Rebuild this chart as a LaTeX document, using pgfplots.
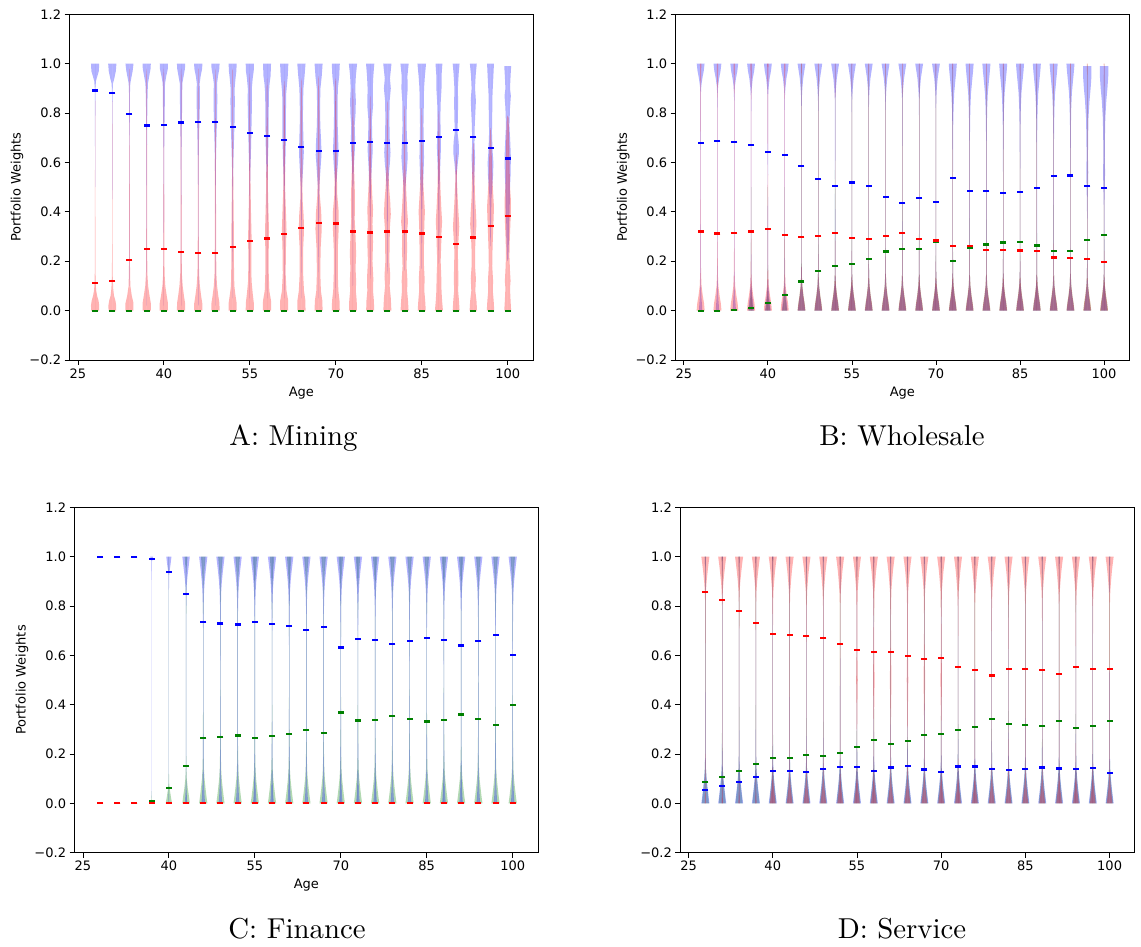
\documentclass[border=0pt]{standalone}
\usepackage{fontspec}
\usepackage{pgfplots}
\pgfplotsset{compat=1.18}
\usepackage{pgfplotstable}
\newfontfamily\dv{DejaVu Sans}
\newfontfamily\capfont{lmroman10-regular.otf}
\definecolor{mblue}{RGB}{0,0,255}
\definecolor{mred}{RGB}{255,0,0}
\definecolor{mgreen}{RGB}{0,128,0}

% one violin = two mirrored halves of a density profile (columns y, w)
\newcommand{\V}[3]{%
  \addplot[draw=none, fill=#2, fill opacity=0.3, forget plot] table[row sep=crcr, x expr={#1+\thisrow{w}}, y=y] {y w\\#3\\};
  \addplot[draw=none, fill=#2, fill opacity=0.3, forget plot] table[row sep=crcr, x expr={#1-\thisrow{w}}, y=y] {y w\\#3\\};
}
\newcommand{\VT}[3]{%
  \addplot[draw=none, fill=#2, fill opacity=0.3, forget plot] table[x expr={#1+\thisrow{w}}, y=y] {#3};
  \addplot[draw=none, fill=#2, fill opacity=0.3, forget plot] table[x expr={#1-\thisrow{w}}, y=y] {#3};
}

% mean portfolio weights by age
\pgfplotstableread{
age blue red green
28 0.891 0.111 0
31 0.881 0.120 0
34 0.796 0.204 0
37 0.750 0.250 0
40 0.753 0.249 0
43 0.762 0.238 0
46 0.765 0.234 0
49 0.765 0.234 0
52 0.743 0.257 0
55 0.719 0.281 0
58 0.708 0.292 0
61 0.691 0.309 0
64 0.664 0.336 0
67 0.645 0.355 0
70 0.647 0.353 0
73 0.680 0.320 0
76 0.684 0.316 0
79 0.680 0.320 0
82 0.680 0.320 0
85 0.686 0.312 0
88 0.703 0.299 0
91 0.731 0.269 0
94 0.704 0.296 0
97 0.658 0.343 0
100 0.616 0.382 0
}\meansA
\pgfplotstableread{
age blue red green
28 0.680 0.320 0.000
31 0.686 0.312 0.000
34 0.684 0.315 0.003
37 0.670 0.320 0.011
40 0.641 0.330 0.030
43 0.630 0.307 0.062
46 0.586 0.297 0.118
49 0.534 0.303 0.162
52 0.505 0.314 0.181
55 0.519 0.293 0.188
58 0.503 0.289 0.208
61 0.459 0.301 0.239
64 0.436 0.314 0.251
67 0.457 0.291 0.251
70 0.439 0.284 0.280
73 0.538 0.262 0.200
76 0.485 0.261 0.253
79 0.485 0.246 0.268
82 0.477 0.246 0.276
85 0.480 0.243 0.277
88 0.495 0.241 0.264
91 0.546 0.215 0.241
94 0.547 0.214 0.241
97 0.505 0.209 0.287
100 0.496 0.197 0.307
}\meansB
\pgfplotstableread{
age blue red green
28 1.000 0 0.000
31 1.000 0 0.000
34 1.000 0 0.000
37 0.992 0 0.008
40 0.939 0 0.061
43 0.847 0 0.153
46 0.736 0 0.264
49 0.729 0 0.269
52 0.725 0 0.275
55 0.736 0 0.264
58 0.728 0 0.272
61 0.720 0 0.280
64 0.702 0 0.298
67 0.716 0 0.286
70 0.632 0 0.368
73 0.666 0 0.336
76 0.663 0 0.337
79 0.647 0 0.354
82 0.659 0 0.341
85 0.670 0 0.332
88 0.662 0 0.338
91 0.640 0 0.360
94 0.659 0 0.341
97 0.682 0 0.318
100 0.602 0 0.399
}\meansC
\pgfplotstableread{
age blue red green
28 0.054 0.858 0.087
31 0.070 0.824 0.106
34 0.087 0.781 0.131
37 0.107 0.732 0.160
40 0.131 0.687 0.183
43 0.130 0.683 0.185
46 0.127 0.677 0.195
49 0.138 0.670 0.192
52 0.148 0.645 0.204
55 0.148 0.622 0.229
58 0.131 0.612 0.257
61 0.145 0.613 0.241
64 0.150 0.598 0.252
67 0.137 0.586 0.277
70 0.127 0.590 0.280
73 0.149 0.552 0.298
76 0.149 0.541 0.310
79 0.140 0.518 0.341
82 0.134 0.543 0.322
85 0.138 0.545 0.317
88 0.145 0.541 0.315
91 0.141 0.524 0.334
94 0.140 0.552 0.307
97 0.144 0.545 0.313
100 0.122 0.545 0.334
}\meansD

% shared density profiles (y, half width)
\pgfplotstableread[row sep=crcr]{y w\\0 0\\0 0.3\\0.02 0.25\\0.05 0.15\\0.1 0.06\\0.2 0.03\\0.5 0.02\\0.8 0.03\\0.88 0.05\\0.91 0.12\\0.94 0.3\\0.97 0.55\\1.0 0.7\\1.0 0\\}\BbA
\pgfplotstableread[row sep=crcr]{y w\\0 0\\0 0.5\\0.03 0.38\\0.06 0.22\\0.1 0.09\\0.15 0.04\\0.25 0.03\\0.5 0.02\\0.8 0.03\\0.87 0.05\\0.9 0.12\\0.94 0.3\\0.97 0.55\\1.0 0.7\\1.0 0\\}\BbB
\pgfplotstableread[row sep=crcr]{y w\\0 0\\0 0.65\\0.03 0.5\\0.06 0.3\\0.1 0.12\\0.15 0.05\\0.25 0.03\\0.5 0.02\\0.8 0.03\\0.86 0.06\\0.9 0.15\\0.94 0.3\\0.97 0.5\\1.0 0.7\\1.0 0\\}\BbC
\pgfplotstableread[row sep=crcr]{y w\\0 0\\0 0.65\\0.03 0.5\\0.06 0.3\\0.1 0.12\\0.15 0.05\\0.25 0.03\\0.5 0.03\\0.65 0.05\\0.75 0.08\\0.82 0.14\\0.88 0.25\\0.93 0.45\\0.97 0.62\\1.0 0.72\\1.0 0\\}\BbD
\pgfplotstableread[row sep=crcr]{y w\\0 0\\0 0.6\\0.03 0.45\\0.06 0.28\\0.1 0.12\\0.15 0.05\\0.3 0.03\\0.42 0.05\\0.5 0.12\\0.56 0.18\\0.62 0.12\\0.7 0.15\\0.78 0.22\\0.85 0.4\\0.9 0.6\\0.95 0.75\\0.99 0.75\\0.99 0\\}\BbE
\pgfplotstableread[row sep=crcr]{y w\\0 0\\0 0.72\\0.03 0.6\\0.06 0.38\\0.1 0.16\\0.15 0.07\\0.3 0.03\\0.6 0.02\\0.85 0.03\\0.92 0.06\\0.97 0.1\\1.0 0.12\\1.0 0\\}\BrA
\pgfplotstableread[row sep=crcr]{y w\\0 0\\0 0.7\\0.03 0.55\\0.06 0.35\\0.1 0.15\\0.15 0.05\\0.3 0.02\\0.6 0.02\\0.85 0.02\\0.95 0.04\\1.0 0.06\\1.0 0\\}\BrB
\pgfplotstableread[row sep=crcr]{y w\\0 0\\0 0.45\\0.03 0.25\\0.06 0.1\\0.1 0.03\\0.3 0.01\\0.5 0\\}\BgA
\pgfplotstableread[row sep=crcr]{y w\\0 0\\0 0.7\\0.03 0.55\\0.06 0.35\\0.1 0.15\\0.15 0.05\\0.3 0.03\\0.6 0.02\\0.9 0.02\\0.98 0.01\\1.0 0\\}\BgB

\pgfplotstableread[row sep=crcr]{y w\\0.02 0\\0.05 0.01\\0.9 0.01\\0.98 0.05\\1.0 0.25\\1.0 0\\}\CbA
\pgfplotstableread[row sep=crcr]{y w\\0 0\\0 0.06\\0.05 0.01\\0.85 0.015\\0.92 0.04\\0.94 0.12\\0.97 0.3\\1.0 0.45\\1.0 0\\}\CbB
\pgfplotstableread[row sep=crcr]{y w\\0 0\\0 0.2\\0.05 0.08\\0.1 0.02\\0.3 0.015\\0.7 0.015\\0.84 0.04\\0.88 0.1\\0.92 0.25\\0.96 0.45\\1.0 0.65\\1.0 0\\}\CbC
\pgfplotstableread[row sep=crcr]{y w\\0 0\\0 0.32\\0.03 0.22\\0.08 0.12\\0.15 0.07\\0.25 0.045\\0.5 0.03\\0.7 0.04\\0.8 0.07\\0.86 0.14\\0.9 0.25\\0.94 0.42\\0.97 0.57\\1.0 0.72\\1.0 0\\}\CbD
\pgfplotstableread[row sep=crcr]{y w\\0 0\\0 0.15\\0.02 0.02\\0.05 0\\}\CgA
\pgfplotstableread[row sep=crcr]{y w\\0 0\\0 0.55\\0.02 0.4\\0.05 0.2\\0.08 0.06\\0.12 0.02\\0.9 0.01\\1.0 0.04\\1.0 0\\}\CgB
\pgfplotstableread[row sep=crcr]{y w\\0 0\\0 0.65\\0.03 0.5\\0.06 0.3\\0.1 0.12\\0.15 0.04\\0.3 0.015\\0.7 0.015\\0.95 0.08\\1.0 0.25\\1.0 0\\}\CgC
\pgfplotstableread[row sep=crcr]{y w\\0 0\\0 0.72\\0.03 0.55\\0.06 0.4\\0.1 0.22\\0.14 0.12\\0.2 0.07\\0.3 0.05\\0.5 0.03\\0.75 0.04\\0.85 0.06\\0.9 0.1\\0.95 0.22\\1.0 0.4\\1.0 0\\}\CgD

\pgfplotstableread[row sep=crcr]{y w\\0 0\\0 0.12\\0.05 0.05\\0.1 0.03\\0.3 0.02\\0.6 0.02\\0.8 0.04\\0.86 0.1\\0.9 0.22\\0.94 0.4\\0.97 0.55\\1.0 0.72\\1.0 0\\}\DrA
\pgfplotstableread[row sep=crcr]{y w\\0 0\\0 0.5\\0.03 0.35\\0.06 0.2\\0.1 0.08\\0.15 0.04\\0.3 0.03\\0.6 0.03\\0.8 0.05\\0.86 0.12\\0.9 0.25\\0.94 0.4\\0.97 0.55\\1.0 0.72\\1.0 0\\}\DrB
\pgfplotstableread[row sep=crcr]{y w\\0 0\\0 0.5\\0.03 0.35\\0.06 0.2\\0.1 0.08\\0.15 0.04\\0.3 0.04\\0.4 0.08\\0.5 0.14\\0.6 0.08\\0.75 0.05\\0.86 0.12\\0.9 0.25\\0.94 0.4\\0.97 0.55\\1.0 0.72\\1.0 0\\}\DrC
\pgfplotstableread[row sep=crcr]{y w\\0 0\\0 0.72\\0.03 0.55\\0.06 0.4\\0.1 0.22\\0.14 0.1\\0.2 0.05\\0.3 0.03\\0.6 0.02\\0.85 0.02\\0.95 0.05\\1.0 0.1\\1.0 0\\}\DbA
\pgfplotstableread[row sep=crcr]{y w\\0 0\\0 0.62\\0.03 0.5\\0.06 0.35\\0.1 0.2\\0.15 0.08\\0.2 0.05\\0.4 0.03\\0.7 0.03\\0.9 0.04\\0.97 0.07\\1.0 0.12\\1.0 0\\}\DgA

\pgfplotsset{
  panel/.style={
    scale only axis,
    xmin=23.55, xmax=104.45, ymin=-0.2, ymax=1.2,
    xtick={25,40,55,70,85,100},
    xticklabels={25,40,55,70,85,100},
    ytick={-0.2,0,0.2,0.4,0.6,0.8,1.0,1.2},
    yticklabels={−0.2,0.0,0.2,0.4,0.6,0.8,1.0,1.2},
    tick align=outside, tick pos=left,
    major tick length=5pt,
    every tick/.style={black, line width=0.8pt},
    axis line style={line width=0.8pt},
    tick label style={font=\dv\fontsize{13}{15}\selectfont},
    label style={font=\dv\fontsize{13}{15}\selectfont},
    xlabel style={at={(axis description cs:0.5,0)}, anchor=center, yshift=-32.7pt},
    ylabel style={at={(axis description cs:0,0.5)}, anchor=center, rotate=0, yshift=52.5pt},
  },
  meanmark/.style={only marks, mark=-, mark size=3pt, mark options={line width=2.2pt}},
}

\begin{document}
\begin{tikzpicture}
\path[use as bounding box] (0pt,0pt) rectangle (1141pt,947pt);

% ---------------- A: Mining ----------------
\begin{axis}[panel, at={(69.6pt,587pt)}, anchor=south west, width=463.6pt, height=345.7pt,
  xlabel={Age}, ylabel={Portfolio Weights}]
\V{28}{mblue}{0.5 0\\0.55 0.01\\0.7 0.02\\0.85 0.03\\0.9 0.05\\0.93 0.15\\0.95 0.4\\0.97 0.65\\1.0 0.72\\1.0 0}
\V{31}{mblue}{0.45 0\\0.5 0.01\\0.7 0.02\\0.88 0.04\\0.92 0.12\\0.94 0.35\\0.97 0.62\\1.0 0.72\\1.0 0}
\V{34}{mblue}{0.1 0\\0.2 0.01\\0.4 0.02\\0.6 0.03\\0.8 0.05\\0.88 0.08\\0.92 0.14\\0.94 0.3\\0.97 0.55\\1.0 0.7\\1.0 0}
\V{37}{mblue}{0.02 0\\0.1 0.01\\0.3 0.02\\0.5 0.03\\0.65 0.05\\0.75 0.08\\0.83 0.12\\0.88 0.16\\0.92 0.22\\0.95 0.45\\0.98 0.68\\1.0 0.72\\1.0 0}
\V{40}{mblue}{0.02 0\\0.1 0.01\\0.3 0.02\\0.5 0.03\\0.65 0.06\\0.75 0.1\\0.82 0.15\\0.88 0.18\\0.92 0.2\\0.95 0.42\\0.98 0.7\\1.0 0.72\\1.0 0}
\V{43}{mblue}{0.02 0\\0.1 0.01\\0.3 0.02\\0.5 0.04\\0.65 0.07\\0.75 0.12\\0.82 0.18\\0.88 0.2\\0.92 0.22\\0.95 0.45\\0.98 0.68\\1.0 0.72\\1.0 0}
\V{46}{mblue}{0.02 0\\0.1 0.01\\0.3 0.02\\0.5 0.04\\0.62 0.08\\0.72 0.15\\0.8 0.25\\0.87 0.3\\0.92 0.25\\0.95 0.42\\0.98 0.68\\1.0 0.72\\1.0 0}
\V{49}{mblue}{0.02 0\\0.1 0.01\\0.3 0.02\\0.5 0.05\\0.62 0.1\\0.7 0.18\\0.78 0.28\\0.86 0.33\\0.92 0.28\\0.95 0.45\\0.98 0.68\\1.0 0.72\\1.0 0}
\V{52}{mblue}{0.05 0\\0.2 0.02\\0.4 0.04\\0.55 0.08\\0.62 0.15\\0.7 0.25\\0.78 0.35\\0.85 0.38\\0.9 0.35\\0.94 0.5\\0.97 0.65\\1.0 0.7\\1.0 0}
\V{55}{mblue}{0.05 0\\0.2 0.02\\0.4 0.04\\0.55 0.08\\0.63 0.18\\0.7 0.25\\0.78 0.32\\0.85 0.38\\0.9 0.35\\0.94 0.5\\0.97 0.68\\1.0 0.72\\1.0 0}
\V{58}{mblue}{0.05 0\\0.3 0.03\\0.5 0.06\\0.6 0.14\\0.68 0.24\\0.75 0.28\\0.82 0.3\\0.88 0.32\\0.92 0.45\\0.95 0.62\\1.0 0.7\\1.0 0}
\V{61}{mblue}{0.05 0\\0.2 0.03\\0.45 0.06\\0.55 0.12\\0.62 0.22\\0.7 0.3\\0.8 0.3\\0.88 0.35\\0.92 0.5\\0.95 0.62\\1.0 0.72\\1.0 0}
\V{64}{mblue}{0.05 0\\0.3 0.04\\0.5 0.1\\0.58 0.3\\0.64 0.42\\0.7 0.35\\0.78 0.26\\0.85 0.3\\0.9 0.35\\0.95 0.55\\1.0 0.72\\1.0 0}
\V{67}{mblue}{0.05 0\\0.3 0.04\\0.5 0.12\\0.58 0.35\\0.63 0.5\\0.68 0.45\\0.75 0.3\\0.82 0.25\\0.9 0.32\\0.95 0.55\\1.0 0.7\\1.0 0}
\V{70}{mblue}{0.05 0\\0.3 0.04\\0.52 0.12\\0.6 0.38\\0.65 0.48\\0.7 0.4\\0.76 0.32\\0.82 0.3\\0.9 0.36\\0.95 0.6\\1.0 0.7\\1.0 0}
\V{73}{mblue}{0.1 0\\0.12 0.02\\0.3 0.04\\0.5 0.08\\0.58 0.15\\0.65 0.32\\0.7 0.36\\0.75 0.3\\0.8 0.45\\0.85 0.5\\0.9 0.4\\0.95 0.5\\1.0 0.72\\1.0 0}
\V{76}{mblue}{0.13 0\\0.15 0.02\\0.4 0.06\\0.52 0.15\\0.6 0.32\\0.65 0.45\\0.7 0.36\\0.77 0.3\\0.83 0.5\\0.9 0.45\\0.95 0.55\\1.0 0.72\\1.0 0}
\V{79}{mblue}{0.15 0\\0.16 0.02\\0.3 0.05\\0.48 0.1\\0.55 0.25\\0.6 0.45\\0.64 0.55\\0.7 0.4\\0.78 0.35\\0.85 0.4\\0.9 0.6\\0.94 0.45\\1.0 0.72\\1.0 0}
\V{82}{mblue}{0.16 0\\0.17 0.02\\0.3 0.05\\0.5 0.15\\0.57 0.4\\0.62 0.55\\0.68 0.45\\0.75 0.35\\0.85 0.4\\0.9 0.55\\0.95 0.5\\1.0 0.72\\1.0 0}
\V{85}{mblue}{0.17 0\\0.18 0.02\\0.3 0.05\\0.45 0.1\\0.55 0.3\\0.62 0.4\\0.68 0.35\\0.75 0.3\\0.82 0.35\\0.9 0.4\\0.95 0.55\\1.0 0.75\\1.0 0}
\V{88}{mblue}{0.19 0\\0.2 0.02\\0.3 0.05\\0.5 0.1\\0.6 0.25\\0.66 0.35\\0.72 0.3\\0.78 0.25\\0.84 0.3\\0.9 0.45\\0.95 0.45\\1.0 0.6\\1.0 0}
\V{91}{mblue}{0.28 0\\0.3 0.02\\0.4 0.04\\0.55 0.1\\0.6 0.3\\0.64 0.5\\0.68 0.45\\0.72 0.25\\0.78 0.3\\0.84 0.35\\0.9 0.3\\0.96 0.45\\1.0 0.6\\1.0 0}
\V{94}{mblue}{0.3 0\\0.35 0.04\\0.5 0.08\\0.56 0.2\\0.62 0.3\\0.68 0.2\\0.75 0.25\\0.8 0.35\\0.85 0.45\\0.9 0.3\\0.95 0.4\\1.0 0.6\\1.0 0}
\V{97}{mblue}{0.26 0\\0.27 0.03\\0.35 0.08\\0.45 0.15\\0.5 0.3\\0.55 0.45\\0.6 0.5\\0.65 0.35\\0.72 0.25\\0.8 0.3\\0.88 0.35\\0.95 0.5\\1.0 0.6\\1.0 0}
\V{100}{mblue}{0.2 0\\0.21 0.1\\0.28 0.2\\0.35 0.25\\0.42 0.35\\0.5 0.4\\0.55 0.5\\0.62 0.55\\0.68 0.45\\0.75 0.3\\0.82 0.4\\0.87 0.55\\0.9 0.4\\0.95 0.5\\0.99 0.6\\0.99 0}
\V{28}{mred}{0 0\\0 0.7\\0.02 0.72\\0.04 0.6\\0.06 0.35\\0.08 0.2\\0.1 0.12\\0.15 0.06\\0.3 0.03\\0.5 0.02\\0.8 0.01\\0.85 0}
\V{31}{mred}{0 0\\0 0.65\\0.02 0.68\\0.04 0.55\\0.06 0.3\\0.09 0.15\\0.15 0.06\\0.3 0.03\\0.6 0.02\\0.85 0}
\V{34}{mred}{0 0\\0 0.7\\0.03 0.7\\0.06 0.4\\0.1 0.15\\0.2 0.07\\0.4 0.05\\0.7 0.04\\0.95 0.03\\0.98 0}
\V{37}{mred}{0 0\\0 0.72\\0.03 0.72\\0.06 0.5\\0.1 0.25\\0.15 0.12\\0.25 0.08\\0.4 0.07\\0.6 0.06\\0.8 0.05\\0.95 0.04\\0.98 0}
\V{40}{mred}{0 0\\0 0.72\\0.03 0.72\\0.06 0.5\\0.1 0.25\\0.15 0.12\\0.25 0.08\\0.4 0.07\\0.6 0.06\\0.8 0.05\\0.95 0.04\\0.98 0}
\V{43}{mred}{0 0\\0 0.72\\0.03 0.7\\0.06 0.5\\0.1 0.28\\0.15 0.14\\0.25 0.09\\0.4 0.08\\0.6 0.07\\0.8 0.05\\0.95 0.04\\0.98 0}
\V{46}{mred}{0 0\\0 0.72\\0.03 0.7\\0.06 0.5\\0.1 0.28\\0.15 0.14\\0.25 0.09\\0.4 0.08\\0.6 0.07\\0.8 0.05\\0.95 0.04\\0.98 0}
\V{49}{mred}{0 0\\0 0.72\\0.03 0.7\\0.06 0.5\\0.1 0.28\\0.15 0.16\\0.25 0.12\\0.4 0.1\\0.6 0.08\\0.8 0.05\\0.95 0.04\\0.98 0}
\V{52}{mred}{0 0\\0 0.72\\0.03 0.7\\0.07 0.45\\0.1 0.3\\0.15 0.25\\0.25 0.2\\0.35 0.2\\0.45 0.15\\0.6 0.08\\0.8 0.05\\0.97 0.03\\0.98 0}
\V{55}{mred}{0 0\\0 0.72\\0.03 0.7\\0.07 0.5\\0.12 0.3\\0.2 0.25\\0.3 0.3\\0.4 0.2\\0.5 0.12\\0.7 0.08\\0.9 0.05\\0.96 0}
\V{58}{mred}{0 0\\0 0.72\\0.04 0.7\\0.08 0.4\\0.15 0.3\\0.25 0.3\\0.32 0.35\\0.4 0.25\\0.5 0.15\\0.7 0.1\\0.9 0.06\\0.94 0}
\V{61}{mred}{0 0\\0 0.7\\0.04 0.7\\0.08 0.4\\0.15 0.25\\0.25 0.3\\0.33 0.4\\0.4 0.3\\0.5 0.15\\0.7 0.12\\0.9 0.08\\0.93 0}
\V{64}{mred}{0 0\\0 0.72\\0.04 0.7\\0.08 0.45\\0.15 0.3\\0.25 0.3\\0.32 0.45\\0.38 0.4\\0.45 0.2\\0.6 0.15\\0.8 0.12\\0.92 0.05\\0.94 0}
\V{67}{mred}{0 0\\0 0.7\\0.04 0.65\\0.08 0.4\\0.15 0.3\\0.25 0.35\\0.33 0.55\\0.4 0.45\\0.47 0.2\\0.6 0.15\\0.8 0.12\\0.93 0.05\\0.95 0}
\V{70}{mred}{0 0\\0 0.7\\0.04 0.65\\0.08 0.45\\0.15 0.35\\0.25 0.35\\0.33 0.5\\0.4 0.5\\0.47 0.25\\0.6 0.15\\0.8 0.12\\0.93 0.05\\0.94 0}
\V{73}{mred}{0 0\\0 0.7\\0.04 0.65\\0.08 0.5\\0.12 0.55\\0.17 0.45\\0.23 0.55\\0.3 0.45\\0.37 0.3\\0.45 0.35\\0.5 0.3\\0.6 0.15\\0.75 0.1\\0.89 0.03\\0.9 0}
\V{76}{mred}{0 0\\0 0.7\\0.04 0.65\\0.08 0.5\\0.13 0.55\\0.2 0.4\\0.28 0.5\\0.35 0.4\\0.41 0.5\\0.47 0.35\\0.55 0.2\\0.7 0.12\\0.85 0.04\\0.87 0}
\V{79}{mred}{0 0\\0 0.7\\0.05 0.6\\0.1 0.4\\0.14 0.5\\0.2 0.35\\0.28 0.4\\0.34 0.45\\0.39 0.6\\0.44 0.5\\0.5 0.3\\0.6 0.12\\0.75 0.08\\0.84 0.03\\0.85 0}
\V{82}{mred}{0 0\\0 0.7\\0.04 0.6\\0.08 0.45\\0.12 0.5\\0.18 0.35\\0.25 0.45\\0.31 0.4\\0.36 0.6\\0.41 0.45\\0.48 0.3\\0.6 0.12\\0.75 0.08\\0.82 0.03\\0.83 0}
\V{85}{mred}{0 0\\0 0.7\\0.04 0.6\\0.08 0.45\\0.13 0.5\\0.2 0.35\\0.28 0.4\\0.35 0.45\\0.4 0.55\\0.46 0.4\\0.52 0.25\\0.62 0.1\\0.78 0.06\\0.82 0}
\V{88}{mred}{0 0\\0 0.7\\0.04 0.55\\0.08 0.45\\0.14 0.4\\0.2 0.3\\0.27 0.4\\0.32 0.45\\0.36 0.55\\0.42 0.4\\0.5 0.25\\0.6 0.15\\0.72 0.08\\0.8 0.03\\0.81 0}
\V{91}{mred}{0 0\\0 0.6\\0.04 0.5\\0.08 0.35\\0.13 0.4\\0.18 0.35\\0.24 0.3\\0.3 0.45\\0.34 0.55\\0.38 0.45\\0.44 0.3\\0.52 0.15\\0.6 0.08\\0.63 0.02\\0.64 0}
\V{94}{mred}{0 0\\0 0.65\\0.04 0.55\\0.08 0.35\\0.13 0.45\\0.18 0.3\\0.24 0.3\\0.3 0.4\\0.35 0.55\\0.4 0.45\\0.46 0.3\\0.55 0.2\\0.62 0.12\\0.67 0.05\\0.68 0}
\V{97}{mred}{0 0\\0 0.65\\0.04 0.55\\0.08 0.4\\0.12 0.45\\0.18 0.3\\0.25 0.35\\0.32 0.45\\0.38 0.55\\0.42 0.6\\0.46 0.5\\0.52 0.35\\0.6 0.25\\0.68 0.15\\0.73 0.05\\0.74 0}
\V{100}{mred}{0 0\\0 0.6\\0.04 0.5\\0.09 0.4\\0.12 0.5\\0.16 0.4\\0.22 0.3\\0.28 0.35\\0.34 0.45\\0.4 0.55\\0.45 0.55\\0.5 0.4\\0.56 0.35\\0.62 0.3\\0.7 0.25\\0.78 0.15\\0.79 0}
\addplot[meanmark, color=mgreen] table[x=age, y=green] {\meansA};
\addplot[meanmark, color=mblue] table[x=age, y=blue] {\meansA};
\addplot[meanmark, color=mred] table[x=age, y=red] {\meansA};
\end{axis}

% ---------------- B: Wholesale ----------------
\begin{axis}[panel, at={(675.7pt,587pt)}, anchor=south west, width=453.3pt, height=345.7pt,
  xlabel={Age}, ylabel={Portfolio Weights}]
\pgfplotsinvokeforeach{37,40,43}{\VT{#1}{mgreen}{\BgA}}
\pgfplotsinvokeforeach{46,49,...,100}{\VT{#1}{mgreen}{\BgB}}
\pgfplotsinvokeforeach{28,31,34}{\VT{#1}{mblue}{\BbA}}
\pgfplotsinvokeforeach{37,40,43}{\VT{#1}{mblue}{\BbB}}
\pgfplotsinvokeforeach{46,49,...,70}{\VT{#1}{mblue}{\BbC}}
\pgfplotsinvokeforeach{73,76,...,94}{\VT{#1}{mblue}{\BbD}}
\pgfplotsinvokeforeach{97,100}{\VT{#1}{mblue}{\BbE}}
\pgfplotsinvokeforeach{28,31,...,43}{\VT{#1}{mred}{\BrA}}
\pgfplotsinvokeforeach{46,49,...,100}{\VT{#1}{mred}{\BrB}}
\addplot[meanmark, color=mgreen] table[x=age, y=green] {\meansB};
\addplot[meanmark, color=mblue] table[x=age, y=blue] {\meansB};
\addplot[meanmark, color=mred] table[x=age, y=red] {\meansB};
\end{axis}

% ---------------- C: Finance ----------------
\begin{axis}[panel, at={(74.6pt,94.3pt)}, anchor=south west, width=463.6pt, height=345.4pt,
  xlabel={Age}, ylabel={Portfolio Weights}]
\VT{37}{mgreen}{\CgA}
\VT{40}{mgreen}{\CgB}
\VT{43}{mgreen}{\CgC}
\pgfplotsinvokeforeach{46,49,...,100}{\VT{#1}{mgreen}{\CgD}}
\VT{37}{mblue}{\CbA}
\VT{40}{mblue}{\CbB}
\VT{43}{mblue}{\CbC}
\pgfplotsinvokeforeach{46,49,...,100}{\VT{#1}{mblue}{\CbD}}
\addplot[meanmark, color=mblue] table[x=age, y=blue] {\meansC};
\addplot[meanmark, color=mgreen] table[x=age, y=green] {\meansC};
\addplot[meanmark, color=mred] table[x=age, y=red] {\meansC};
\end{axis}

% ---------------- D: Service ----------------
\begin{axis}[panel, at={(680.4pt,94.3pt)}, anchor=south west, width=454.2pt, height=345.4pt]
\pgfplotsinvokeforeach{28,31,...,100}{\VT{#1}{mgreen}{\DgA}}
\pgfplotsinvokeforeach{28,31,...,100}{\VT{#1}{mblue}{\DbA}}
\pgfplotsinvokeforeach{28,31,34,37}{\VT{#1}{mred}{\DrA}}
\pgfplotsinvokeforeach{40,43,...,52}{\VT{#1}{mred}{\DrB}}
\pgfplotsinvokeforeach{55,58,...,70}{\VT{#1}{mred}{\DrC}}
\pgfplotsinvokeforeach{73,76,...,100}{\VT{#1}{mred}{\DrB}}
\addplot[meanmark, color=mgreen] table[x=age, y=green] {\meansD};
\addplot[meanmark, color=mblue] table[x=age, y=blue] {\meansD};
\addplot[meanmark, color=mred] table[x=age, y=red] {\meansD};
\end{axis}

% panel captions
\node[font=\capfont\fontsize{28.8}{32}\selectfont, anchor=base] at (293.5pt,501pt) {A: Mining};
\node[font=\capfont\fontsize{28.8}{32}\selectfont, anchor=base] at (902pt,501pt) {B: Wholesale};
\node[font=\capfont\fontsize{28.8}{32}\selectfont, anchor=base] at (297pt,8pt) {C: Finance};
\node[font=\capfont\fontsize{28.8}{32}\selectfont, anchor=base] at (902pt,8pt) {D: Service};
\end{tikzpicture}
\end{document}
